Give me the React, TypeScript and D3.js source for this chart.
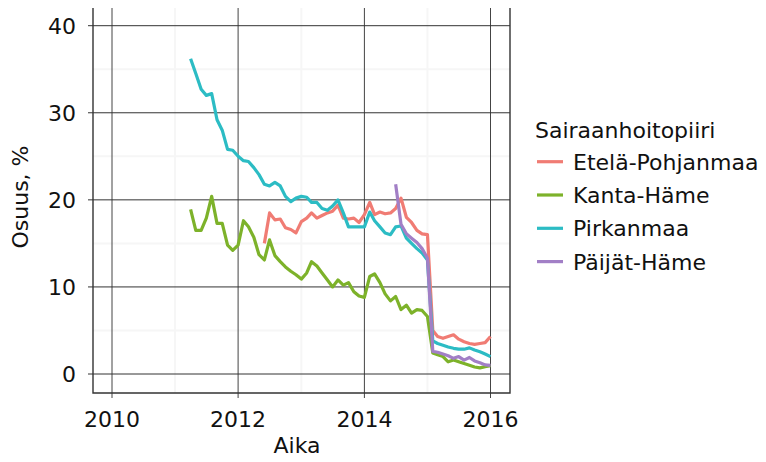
import React, { useEffect, useRef } from "react";
import * as d3 from "d3";

// monthly share (%) per hospital district
const seriesNames = ["Etelä-Pohjanmaa", "Kanta-Häme", "Pirkanmaa", "Päijät-Häme"];
const seriesColors = ["#F07C74", "#7DB22A", "#2CBCC4", "#A27FC6"];
const seriesStart = ["2012-06-01", "2011-04-01", "2011-04-01", "2014-07-01"];

const etelaPohjanmaa = [
  15.0, 18.5, 17.7, 17.8, 16.8, 16.6, 16.2,
  17.5, 17.9, 18.5, 17.9, 18.2, 18.5, 18.7, 19.4, 17.9, 17.8, 17.9, 17.4,
  18.3, 19.7, 18.3, 18.6, 18.4, 18.5, 19.0, 20.2, 18.0, 17.4, 16.5, 16.1,
  16.0, 5.0, 4.3, 4.1, 4.3, 4.5, 4.0, 3.7, 3.5, 3.4, 3.5, 3.6,
  4.3,
];
const kantaHame = [
  18.9, 16.5, 16.5, 17.9, 20.4, 17.3, 17.3, 14.8, 14.2,
  14.8, 17.6, 16.9, 15.7, 13.7, 13.1, 15.4, 13.6, 12.9, 12.3, 11.8, 11.4,
  10.9, 11.6, 12.9, 12.4, 11.6, 10.8, 10.0, 10.8, 10.2, 10.5, 9.45, 8.95,
  8.8, 11.2, 11.5, 10.5, 9.2, 8.4, 8.9, 7.4, 7.9, 7.0, 7.4, 7.3,
  6.6, 2.4, 2.2, 2.0, 1.4, 1.6, 1.4, 1.2, 1.0, 0.8, 0.7, 0.85,
  0.95,
];
const pirkanmaa = [
  36.2, 34.5, 32.7, 32.0, 32.2, 29.2, 28.0, 25.8, 25.7,
  25.0, 24.5, 24.4, 23.7, 22.9, 21.8, 21.6, 22.0, 21.6, 20.4, 19.8, 20.2,
  20.4, 20.3, 19.7, 19.7, 19.0, 18.8, 19.3, 20.0, 18.5, 16.9, 16.9, 16.9,
  16.9, 18.6, 17.6, 16.9, 16.2, 16.0, 16.9, 17.0, 15.6, 15.0, 14.4, 13.9,
  13.1, 3.8, 3.5, 3.3, 3.1, 2.95, 2.85, 2.85, 3.0, 2.75, 2.55, 2.3,
  2.0,
];
const paijatHame = [
  21.8, 17.2, 16.1, 15.6, 15.1, 14.4,
  13.3, 2.6, 2.5, 2.3, 2.1, 1.8, 2.0, 1.6, 1.9, 1.5, 1.3, 1.05,
  1.0,
];
const seriesValues = [etelaPohjanmaa, kantaHame, pirkanmaa, paijatHame];

const xTicks = [2010, 2012, 2014, 2016];
const xMinor = [2011, 2013, 2015];
const yTicks = [0, 10, 20, 30, 40];
const yMinor = [5, 15, 25, 35];

const FONT = "'DejaVu Sans', sans-serif";

export default function App() {
  const ref = useRef<SVGSVGElement>(null);

  useEffect(() => {
    var svg = d3.select(ref.current);
    svg.selectAll("*").remove();

    var panel = { left: 93, right: 510, top: 8, bottom: 393 };

    var x = d3
      .scaleUtc()
      .domain([new Date(Date.UTC(2010, 0, 1)), new Date(Date.UTC(2016, 0, 1))])
      .range([112, 490.5]);
    var y = d3.scaleLinear().domain([0, 40]).range([374, 25.7]);
    var yr = (v) => x(new Date(Date.UTC(v, 0, 1)));

    // minor grid
    svg
      .append("g")
      .selectAll("line")
      .data(xMinor)
      .join("line")
      .attr("x1", yr)
      .attr("x2", yr)
      .attr("y1", panel.top)
      .attr("y2", panel.bottom)
      .attr("stroke", "#f6f6f6")
      .attr("stroke-width", 2);
    svg
      .append("g")
      .selectAll("line")
      .data(yMinor)
      .join("line")
      .attr("x1", panel.left)
      .attr("x2", panel.right)
      .attr("y1", y)
      .attr("y2", y)
      .attr("stroke", "#f6f6f6")
      .attr("stroke-width", 2);

    // major grid
    svg
      .append("g")
      .selectAll("line")
      .data(xTicks)
      .join("line")
      .attr("x1", yr)
      .attr("x2", yr)
      .attr("y1", panel.top)
      .attr("y2", panel.bottom + 5)
      .attr("stroke", "#444")
      .attr("stroke-width", 1);
    svg
      .append("g")
      .selectAll("line")
      .data(yTicks)
      .join("line")
      .attr("x1", panel.left - 5)
      .attr("x2", panel.right)
      .attr("y1", y)
      .attr("y2", y)
      .attr("stroke", "#333")
      .attr("stroke-width", 1);

    // panel sides
    svg
      .append("path")
      .attr(
        "d",
        `M${panel.left},${panel.top}V${panel.bottom}H${panel.right}V${panel.top}`
      )
      .attr("fill", "none")
      .attr("stroke", "#333")
      .attr("stroke-width", 1.4);

    // lines
    var line = d3
      .line()
      .x((d) => x(d.date))
      .y((d) => y(d.value));
    seriesValues.forEach((vals, i) => {
      var start = new Date(seriesStart[i] + "T00:00:00Z");
      var data = vals.map((v, k) => ({
        date: d3.utcMonth.offset(start, k),
        value: v,
      }));
      svg
        .append("path")
        .datum(data)
        .attr("d", line)
        .attr("fill", "none")
        .attr("stroke", seriesColors[i])
        .attr("stroke-width", 3.2)
        .attr("stroke-linejoin", "round");
    });

    // tick labels
    svg
      .append("g")
      .selectAll("text")
      .data(yTicks)
      .join("text")
      .attr("x", 76)
      .attr("y", y)
      .attr("dy", "0.36em")
      .attr("text-anchor", "end")
      .attr("font-family", FONT)
      .attr("font-size", 22)
      .attr("fill", "#111")
      .text((d) => d);
    svg
      .append("g")
      .selectAll("text")
      .data(xTicks)
      .join("text")
      .attr("x", yr)
      .attr("y", 426.5)
      .attr("text-anchor", "middle")
      .attr("font-family", FONT)
      .attr("font-size", 22)
      .attr("fill", "#111")
      .text((d) => d);

    // axis titles
    svg
      .append("text")
      .attr("x", 297)
      .attr("y", 453)
      .attr("text-anchor", "middle")
      .attr("font-family", FONT)
      .attr("font-size", 22)
      .attr("fill", "#111")
      .text("Aika");
    svg
      .append("text")
      .attr("transform", "translate(28,197) rotate(-90)")
      .attr("text-anchor", "middle")
      .attr("font-family", FONT)
      .attr("font-size", 22)
      .attr("fill", "#111")
      .text("Osuus, %");

    // legend
    var lg = svg.append("g");
    lg.append("text")
      .attr("x", 535)
      .attr("y", 138)
      .attr("font-family", FONT)
      .attr("font-size", 22)
      .attr("fill", "#111")
      .text("Sairaanhoitopiiri");
    seriesNames.forEach((name, i) => {
      var cy = 161.7 + i * 33.3;
      lg.append("line")
        .attr("x1", 537)
        .attr("x2", 563)
        .attr("y1", cy)
        .attr("y2", cy)
        .attr("stroke", seriesColors[i])
        .attr("stroke-width", 3.2);
      lg.append("text")
        .attr("x", 573)
        .attr("y", cy)
        .attr("dy", "0.36em")
        .attr("font-family", FONT)
        .attr("font-size", 22)
        .attr("fill", "#111")
        .text(name);
    });
  }, []);

  return (
    <svg
      ref={ref}
      width={766}
      height={462}
      style={{ position: "absolute", left: 0, top: 0, background: "#fff" }}
    />
  );
}
